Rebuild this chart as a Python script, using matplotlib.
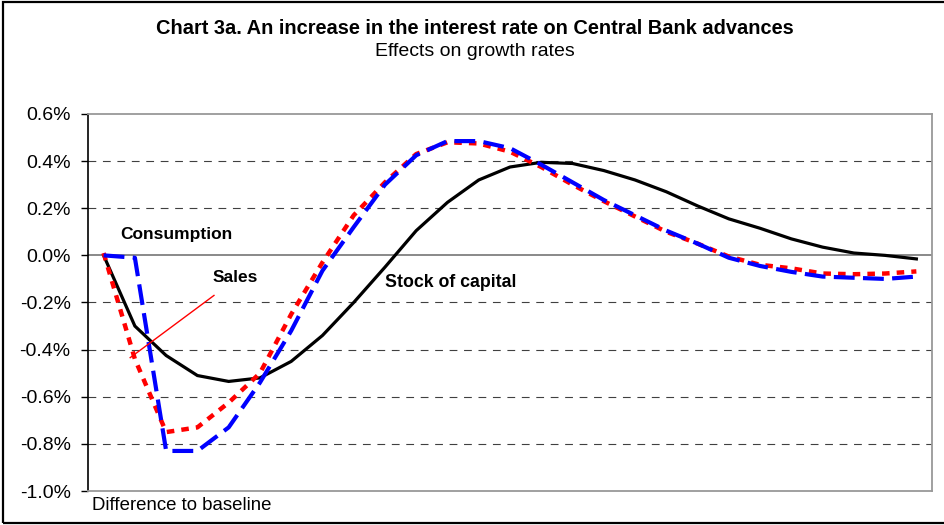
import numpy as np
import matplotlib
matplotlib.use('Agg')
import matplotlib.pyplot as plt
from matplotlib.patches import Rectangle
from matplotlib.ticker import FuncFormatter

plt.rcParams['font.family'] = ['Liberation Sans', 'DejaVu Sans']

# values (in %)
stock_of_capital = [0.0, -0.30, -0.425, -0.51, -0.535, -0.52, -0.45, -0.34, -0.20, -0.05,
                    0.105, 0.225, 0.32, 0.375, 0.395, 0.39, 0.36, 0.32, 0.27, 0.21,
                    0.155, 0.115, 0.07, 0.035, 0.01, 0.0, -0.015]
consumption = [0.0, -0.01, -0.83, -0.83, -0.73, -0.54, -0.32, -0.065, 0.12, 0.30,
               0.425, 0.485, 0.485, 0.455, 0.385, 0.31, 0.235, 0.17, 0.105, 0.05,
               -0.01, -0.045, -0.07, -0.09, -0.095, -0.10, -0.09]
sales = [0.01, -0.44, -0.75, -0.73, -0.625, -0.50, -0.25, -0.03, 0.17, 0.31,
         0.43, 0.48, 0.475, 0.44, 0.375, 0.30, 0.23, 0.165, 0.10, 0.05,
         -0.005, -0.04, -0.055, -0.077, -0.08, -0.077, -0.068]
periods = np.arange(len(sales))
yticks = [0.6, 0.4, 0.2, 0.0, -0.2, -0.4, -0.6, -0.8, -1.0]

fig = plt.figure(figsize=(9.45, 5.25), dpi=100)
ax = fig.add_axes([88/945, 1 - 491/525, 844/945, 377/525])

# grid lines (dashed) and zero axis line
for v in yticks:
    if v in (0.6, -1.0):
        continue
    if v == 0.0:
        ax.axhline(v, color='#808080', lw=1.3, zorder=1)
    else:
        ax.axhline(v, color='#404040', lw=0.8, linestyle=(0, (7, 6)), zorder=1)

ax.plot(periods, stock_of_capital, color='black', lw=2.3, zorder=3,
        solid_joinstyle='miter')
ax.plot(periods, sales, color='red', lw=3.2, linestyle=(0, (1.7, 1.6)),
        dash_capstyle='butt', zorder=4)
ax.plot(periods, consumption, color='#0000ff', lw=3.0, linestyle=(0, (5, 2)),
        dash_capstyle='butt', zorder=5)

ax.set_xlim(-0.5, len(periods) - 0.5)
ax.set_ylim(-1.0, 0.6)
ax.set_yticks(yticks)
ax.yaxis.set_major_formatter(FuncFormatter(lambda v, p: f'{v:.1f}%'))
ax.set_xticks([])
ax.tick_params(axis='y', direction='out', length=5, width=1, labelsize=14, pad=7.5)

for s in ['top', 'right', 'bottom']:
    ax.spines[s].set_color('#999999')
    ax.spines[s].set_linewidth(1.3)
ax.spines['left'].set_color('black')
ax.spines['left'].set_linewidth(1.2)

# series labels
ax.text(0.52, 0.087, 'Consumption', fontsize=12.5, fontweight='bold', va='center', ha='left')
ax.text(3.47, -0.092, 'Sales', fontsize=12.5, fontweight='bold', va='center', ha='left')
ax.text(9.0, -0.117, 'Stock of capital', fontsize=12.8, fontweight='bold', va='center', ha='left')
ax.plot([0.85, 3.53], [-0.434, -0.17], color='red', lw=1.0, zorder=6)

fig.text(0.503, 1 - 28/525, 'Chart 3a. An increase in the interest rate on Central Bank advances',
         ha='center', va='center', fontsize=14.4, fontweight='bold')
fig.text(0.503, 1 - 52/525, 'Effects on growth rates', ha='center', va='center', fontsize=14)
fig.text(92/945, 1 - 506/525, 'Difference to baseline', ha='left', va='center', fontsize=13.4)

# outer frame
fig.patches.append(Rectangle((3/945, 2/525), 1.0, 1 - 4/525, transform=fig.transFigure,
                             fill=False, edgecolor='black', lw=1.6))

fig.savefig('out.png', dpi=100)
